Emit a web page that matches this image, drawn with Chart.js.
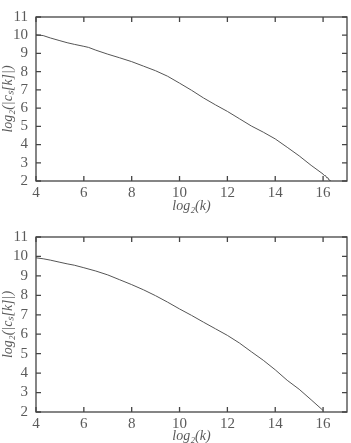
<!DOCTYPE html>
<html>
<head>
<meta charset="utf-8">
<script src="https://cdn.jsdelivr.net/npm/chart.js@4/dist/chart.umd.min.js"></script>
<style>
  body { margin: 0; background: #fff; }
  canvas { position: absolute; left: 0; }
  #topChart { top: 0; }
  #bottomChart { top: 220px; }
</style>
</head>
<body>
<canvas id="topChart" width="351" height="220"></canvas>
<canvas id="bottomChart" width="351" height="223"></canvas>
<script>
const xTicks = [4, 6, 8, 10, 12, 14, 16];
const yTicks = [2, 3, 4, 5, 6, 7, 8, 9, 10, 11];

const kTop = [4, 4.3, 4.6, 5, 5.3, 5.6, 6, 6.2, 6.5, 7, 7.5, 8, 8.5, 9, 9.5, 10, 10.5, 11, 11.5, 12, 12.5, 13, 13.5, 14, 14.5, 15, 15.5, 16, 16.05, 16.1, 16.15, 16.2, 16.25, 16.32];
const cTop = [10.02, 9.98, 9.85, 9.7, 9.59, 9.5, 9.39, 9.33, 9.18, 8.96, 8.76, 8.55, 8.3, 8.05, 7.75, 7.37, 6.98, 6.56, 6.18, 5.82, 5.42, 5.02, 4.68, 4.31, 3.85, 3.38, 2.86, 2.38, 2.3, 2.3, 2.18, 2.18, 2.05, 2.02];

const kBottom = [4, 4.3, 4.6, 5, 5.3, 5.6, 6, 6.5, 7, 7.5, 8, 8.5, 9, 9.5, 10, 10.5, 11, 11.5, 12, 12.5, 13, 13.5, 14, 14.5, 15, 15.5, 16];
const cBottom = [9.93, 9.88, 9.81, 9.7, 9.62, 9.55, 9.42, 9.25, 9.05, 8.8, 8.55, 8.28, 7.98, 7.65, 7.3, 6.97, 6.62, 6.28, 5.94, 5.55, 5.1, 4.66, 4.17, 3.63, 3.17, 2.63, 2.08];

const textColor = '#5a5a5a';
const frameColor = '#444';

// frame box and inward tick marks on all four sides
const frameTicks = {
    id: 'frameTicks',
    afterDatasetsDraw(chart) {
        const ctx = chart.ctx;
        const a = chart.chartArea;
        const xs = chart.scales.x;
        const ys = chart.scales.y;
        const len = 5;
        ctx.save();
        ctx.strokeStyle = frameColor;
        ctx.lineWidth = 1.3;
        ctx.strokeRect(a.left, a.top, a.right - a.left, a.bottom - a.top);
        ctx.beginPath();
        xTicks.forEach(v => {
            const px = xs.getPixelForValue(v);
            ctx.moveTo(px, a.bottom); ctx.lineTo(px, a.bottom - len);
            ctx.moveTo(px, a.top); ctx.lineTo(px, a.top + len);
        });
        yTicks.forEach(v => {
            const py = ys.getPixelForValue(v);
            ctx.moveTo(a.left, py); ctx.lineTo(a.left + len, py);
            ctx.moveTo(a.right, py); ctx.lineTo(a.right - len, py);
        });
        ctx.stroke();
        ctx.restore();
    }
};

function makeChart(id, ks, cs, bottomHeight, topPad, titleBottom) {
    const points = ks.map((k, i) => ({ x: k, y: cs[i] }));
    return new Chart(document.getElementById(id), {
        type: 'line',
        data: {
            datasets: [{
                data: points,
                borderColor: '#555',
                borderWidth: 1,
                pointRadius: 0,
                tension: 0,
                fill: false
            }]
        },
        options: {
            responsive: false,
            animation: false,
            devicePixelRatio: 1,
            layout: { padding: { top: topPad, right: 4, left: 0, bottom: 0 } },
            plugins: { legend: { display: false }, tooltip: { enabled: false } },
            scales: {
                x: {
                    type: 'linear',
                    min: 4, max: 17,
                    afterBuildTicks: s => { s.ticks = xTicks.map(v => ({ value: v })); },
                    afterFit: s => { s.height = bottomHeight; },
                    grid: { display: false, drawTicks: false },
                    border: { display: false },
                    ticks: {
                        autoSkip: false,
                        maxRotation: 0,
                        color: textColor,
                        padding: 3,
                        font: { family: 'Liberation Serif', size: 15 }
                    },
                    title: {
                        display: true,
                        text: 'log₂(k)',
                        color: textColor,
                        padding: { top: 0, bottom: titleBottom },
                        font: { family: 'Liberation Serif', size: 14, style: 'italic' }
                    }
                },
                y: {
                    min: 2, max: 11,
                    afterBuildTicks: s => { s.ticks = yTicks.map(v => ({ value: v })); },
                    afterFit: s => { s.width = 36; },
                    grid: { display: false, drawTicks: false },
                    border: { display: false },
                    ticks: {
                        autoSkip: false,
                        color: textColor,
                        padding: 8,
                        font: { family: 'Liberation Serif', size: 15 }
                    },
                    title: {
                        display: true,
                        text: 'log₂(|cₛ[k]|)',
                        color: textColor,
                        padding: { top: 0, bottom: 0 },
                        font: { family: 'Liberation Serif', size: 14, style: 'italic' }
                    }
                }
            }
        },
        plugins: [frameTicks]
    });
}

makeChart('topChart', kTop, cTop, 39, 6, 5);
makeChart('bottomChart', kBottom, cBottom, 31, 16, -2);
</script>
</body>
</html>
